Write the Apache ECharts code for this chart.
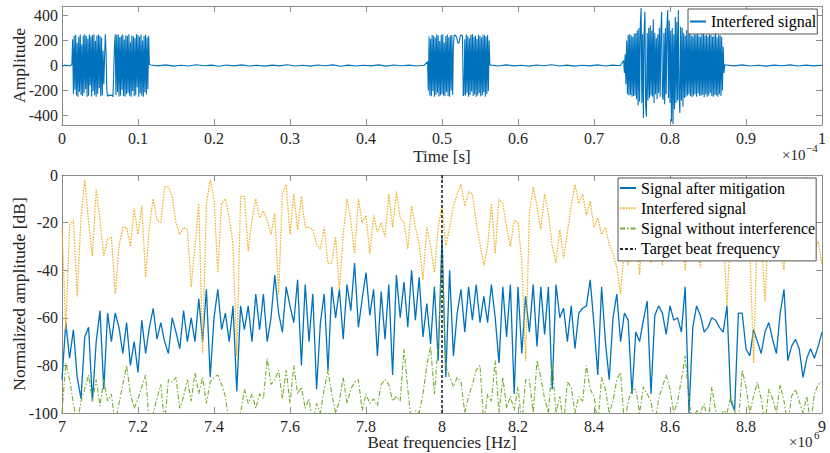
<!DOCTYPE html>
<html>
<head>
<meta charset="utf-8">
<script src="https://cdn.jsdelivr.net/npm/echarts@6/dist/echarts.min.js"></script>
<style>
html,body{margin:0;padding:0;background:#fff;}
#c{width:830px;height:453px;}
</style>
</head>
<body>
<div id="c"></div>
<script>
// ---------- Top panel: time signal (time in units of 1e-4 s) ----------
const quiet1Amp = [2, -3, 5, -4, 3, -5, 4];
const burst1Amp = [10, 210, -228, 238, -195, 246, -240, 182, -250, 230,
  -210, 248, -236, 170, -245, 240, -222, 250, -188, 236,
  -250, 215, -242, 250, -160, 232, -248, 244, -205, 250,
  -238, 198, -250, 240, -226, 248, -180, 236, -246, 224, -240,
  120, -150, 60, 250, 100, -200, -248, -240, -236, -242, -238, -241, -235, -252, -80, 150, 250,
  -236, 244, -212, 250, -248, 226, -240, 238, -196, 250,
  -244, 208, -250, 242, -230, 236, -218, 250, -242, 186,
  -250, 240, -205, 232, -246, 218, -238, 250, -175, 244,
  -250, 230, -222, 248, -240, 200, -250, 236, -214, 246,
  -232, 225, -190, 238, 8];
const quiet2Amp = [4, -3, 5, -5, 2, -4, 6, -2, 3, -6, 4, -3, 5, -4, 2, -5, 3, -3, 6, -4,
  2, -5, 4, -2, 5, -6, 3, -4, 2, -3, 5, -5, 4, -2, 3, -4, 2];
const burst2Amp = [30, -200, 232, -240, 215, -246, 244, -205, 238, -250,
  222, -236, 250, -218, 240, -248, 196, -238, 246, -228,
  250, -240, 185, -246, 236, -212, 248, -244, 226, -250,
  240, -200, 245, -235, 160,
  240, 246, 238, 230, 205, 180, 178, 200, 232, 246, 240, 236,
  -245,
  -230, 210, -240, 248, -222, 236, -250, 218, -236, 246,
  -208, 250, -244, 230, -232, 240, -250, 212, -240, 246,
  -220, 238, -246, 225, -238, 248, -215, 240, -250, 232,
  -228, 244, -205, 200, 5];
const quiet3Amp = [3, -4, 5, -3, 2, -5, 4, -2, 6, -4, 3, -5, 2, -3, 5, -4, 3, -2];
const burst3Amp = [40, -60, 90, -150, 200, -230, 245, -240, 250, -235,
  240, -250, 230, -245, 255, -240, 260, -270, 280, -320,
  300, -290, 330, 460, -300, 250, -420, 280, 430, -330,
  -410, 260, -280, 300, -260, 320, -240, 280, -250, 370,
  -300, 260, -230, 220, -270, 250, -220, 300, -250, 280,
  430, -240, -275, 260, -310, 300, -230, 320, 445, -260,
  360, -300, 280, -450, 300, -470, 250, -350, 390, -300,
  350, -280, 445, -250, -380, 310, -280, 300, -330, 260,
  -260, 240, -250, 285, -240, 250, -230, 255, -245, 240,
  -255, 235, -240, 250, -230, 245, -250, 260, -225, 240,
  -245, 230, -240, 255, -235, 250, -255, 240, -230, 245,
  -250, 235, -240, 250, -220, 245, -245, 230, -250, 240,
  -235, 255, -240, 225, -250, 245, -230, 240, -245, 230,
  -200, 150, -60, 5];
const quiet4Amp = [4, -3, 5, -4, 2, -5, 3, -2, 5, -4, 3, -3, 2];
// segment start time, sample step (x1e-4 s), samples
const timeSegments = [
  [0.000, 0.002, quiet1Amp],
  [0.013, 0.001, burst1Amp],
  [0.1165, 0.01, quiet2Amp],
  [0.481, 0.001, burst2Amp],
  [0.5645, 0.01, quiet3Amp],
  [0.739, 0.001, burst3Amp],
  [0.874, 0.0105, quiet4Amp]
];
const ampTicks = [-400, -200, 0, 200, 400];

// ---------- Bottom panel: spectra (frequency in units of 1e6 Hz) ----------
const freqStart = 7.0;
const freqStep = 0.01;
const mitigated = [-86,-62,-77,-65,-85,-94,-68,-64,-95,-70,
 -57,-90,-58,-70,-58,-64,-75,-62,-80,-70,
 -83,-61,-75,-64,-56,-69,-62,-70,-75,-60,
 -66,-73,-57,-70,-60,-70,-52,-70,-48,-85,
 -60,-48,-65,-58,-70,-55,-91,-55,-65,-55,
 -70,-50,-65,-50,-70,-60,-42,-58,-66,-47,
 -55,-62,-44,-80,-46,-70,-50,-90,-62,-50,
 -82,-47,-60,-48,-69,-46,-57,-37,-64,-52,
 -41,-59,-48,-76,-49,-69,-46,-84,-42,-60,
 -45,-64,-40,-61,-43,-68,-54,-71,-47,-78,
 -26,-85,-40,-76,-58,-48,-66,-47,-61,-46,
 -62,-51,-62,-46,-60,-79,-47,-68,-46,-92,
 -47,-75,-51,-66,-46,-72,-47,-67,-47,-90,
 -46,-60,-56,-70,-55,-73,-58,-56,-55,-44,
 -63,-84,-47,-70,-86,-60,-50,-70,-58,-61,
 -92,-66,-70,-61,-53,-92,-59,-55,-58,-67,
 -55,-61,-60,-66,-47,-100,-64,-55,-59,-66,
 -64,-60,-61,-64,-66,-55,-95,-99,-58,-58,
 -73,-76,-65,-70,-75,-66,-62,-69,-75,-58,
 -48,-78,-72,-69,-73,-85,-77,-73,-77,-72,
 -66];
const interfered = [-22,-65,-21,-19,-51,-18,-2,-20,-34,-6,
 -19,-34,-27,-26,-50,-30,-22,-22,-30,-14,
 -25,-13,-43,-22,-10,-19,-20,-5,-5,-9,
 -20,-25,-22,-23,-47,-30,-12,-75,-12,-2,
 -10,-41,-12,-10,-18,-29,-76,-9,-9,-32,
 -19,-10,-18,-15,-19,-25,-16,-50,-8,-4,
 -25,-8,-23,-9,-22,-22,-23,-29,-31,-22,
 -37,-37,-26,-48,-25,-10,-19,-33,-10,-20,
 -17,-33,-17,-24,-20,-26,-8,-22,-7,-18,
 -20,-31,-13,-22,-29,-44,-22,-30,-41,-22,
 -13,-30,-22,-13,-8,-4,-13,-7,-8,-20,
 -29,-38,-30,-12,-33,-10,-12,-22,-30,-19,
 -20,-36,-78,-16,-5,-13,-23,-8,-16,-30,
 -37,-23,-35,-24,-13,-4,-12,-8,-17,-11,
 -22,-18,-25,-22,-29,-33,-39,-50,-30,-38,
 -20,-15,-42,-18,-12,-37,-20,-10,-38,-22,
 -15,-8,-25,-18,-40,-20,-12,-25,-39,-15,
 -22,-10,-28,-18,-25,-55,-20,-15,-28,-12,
 -22,-30,-79,-20,-25,-53,-18,-10,-22,-30,
 -40,-20,-14,-25,-18,-8,-1,-20,-30,-28,
 -38];
const clean = [-100,-79,-86,-96,-105,-95,-90,-84,-95,-86,
 -97,-86,-95,-92,-105,-96,-88,-80,-92,-98,
 -94,-89,-84,-105,-100,-94,-88,-105,-86,-87,
 -85,-98,-93,-86,-95,-83,-92,-85,-96,-87,
 -85,-84,-88,-93,-105,-100,-105,-100,-90,-96,
 -92,-98,-92,-94,-77,-88,-86,-82,-94,-82,
 -96,-80,-92,-89,-98,-94,-105,-96,-100,-90,
 -82,-92,-100,-95,-85,-96,-90,-87,-86,-99,
 -92,-96,-94,-97,-88,-86,-88,-95,-93,-95,
 -73,-90,-105,-99,-100,-92,-80,-72,-92,-71,
 -35,-80,-85,-89,-85,-87,-100,-93,-88,-82,
 -80,-105,-92,-95,-78,-100,-85,-98,-93,-99,
 -89,-105,-86,-86,-100,-78,-85,-94,-100,-79,
 -100,-93,-105,-87,-89,-100,-93,-95,-80,-90,
 -93,-105,-85,-90,-100,-95,-86,-83,-105,-95,
 -90,-90,-100,-89,-92,-95,-105,-94,-89,-84,
 -90,-100,-95,-86,-76,-95,-105,-99,-100,-96,
 -105,-89,-99,-105,-99,-100,-93,-99,-105,-82,
 -89,-100,-93,-87,-94,-105,-90,-94,-100,-88,
 -95,-105,-93,-90,-95,-100,-93,-105,-92,-88,
 -87];
const targetFreq = 8.0;
const dbRange = [-100, 0];

// ---------- build data ----------
const timeData = [];
timeSegments.forEach(([t0, dt, vals]) => {
  vals.forEach((v, i) => timeData.push([+(t0 + i * dt).toFixed(5), v]));
});
const toSpec = arr => arr.map((v, i) => [+(freqStart + i * freqStep).toFixed(3), v]);

const FONT = 'Liberation Serif, DejaVu Serif, serif';
const AX = '#8c8c8c';
const TXT = '#262626';
const TICKFS = 16;

function xAx(grid, min, max, interval, pos, name, showLabel, gap) {
  return {
    type: 'value', gridIndex: grid, min, max, interval, position: pos,
    name: name || '', nameLocation: 'middle', nameGap: gap || 23, nameMoveOverlap: false,
    nameTextStyle: { fontFamily: FONT, fontSize: 17, color: TXT },
    axisLine: { show: true, onZero: false, lineStyle: { color: AX, width: 1 } },
    axisTick: { show: true, inside: true, length: 6, lineStyle: { color: AX } },
    axisLabel: { show: showLabel, fontFamily: FONT, fontSize: TICKFS, color: TXT, margin: 5 },
    splitLine: { show: false }
  };
}
function yAx(grid, min, max, extra, pos, name, showLabel) {
  return Object.assign({
    type: 'value', gridIndex: grid, min, max, position: pos,
    name: name || '', nameLocation: 'middle', nameGap: 34, nameRotate: 90, nameMoveOverlap: false,
    nameTextStyle: { fontFamily: FONT, fontSize: 17.5, color: TXT },
    axisLine: { show: true, onZero: false, lineStyle: { color: AX, width: 1 } },
    axisTick: { show: true, inside: true, length: 6, lineStyle: { color: AX } },
    axisLabel: { show: showLabel, fontFamily: FONT, fontSize: TICKFS, color: TXT, margin: 4 },
    splitLine: { show: false }
  }, extra);
}

const legendCommon = {
  orient: 'vertical', itemWidth: 16, itemHeight: 14, itemGap: 4.3,
  backgroundColor: '#fff', borderColor: '#262626', borderWidth: 0.8,
  itemStyle: { opacity: 0 },
  textStyle: { fontFamily: FONT, fontSize: 16, color: '#000', lineHeight: 14 },
  selectedMode: false
};

const chart = echarts.init(document.getElementById('c'), null, { renderer: 'svg', width: 830, height: 453 });
const option = {
  animation: false,
  backgroundColor: '#fff',
  grid: [
    { left: 62, top: 6, width: 760, height: 119, containLabel: false, outerBoundsMode: 'none' },
    { left: 62, top: 175, width: 760, height: 238, containLabel: false, outerBoundsMode: 'none' }
  ],
  xAxis: [
    xAx(0, 0, 1, 0.1, 'bottom', 'Time [s]', true, 23),
    xAx(0, 0, 1, 0.1, 'top', '', false),
    xAx(1, 7, 9, 0.2, 'bottom', 'Beat frequencies [Hz]', true, 21),
    xAx(1, 7, 9, 0.2, 'top', '', false)
  ],
  yAxis: [
    yAx(0, -477, 477, {
      axisTick: { show: true, inside: true, length: 6, lineStyle: { color: AX }, customValues: ampTicks },
      axisLabel: { show: true, fontFamily: FONT, fontSize: TICKFS, color: TXT, margin: 4, customValues: ampTicks }
    }, 'left', 'Amplitude', true),
    yAx(0, -477, 477, {
      axisTick: { show: true, inside: true, length: 6, lineStyle: { color: AX }, customValues: ampTicks },
      axisLabel: { show: false }
    }, 'right', '', false),
    yAx(1, dbRange[0], dbRange[1], { interval: 20 }, 'left', 'Normalized amplitude [dB]', true),
    yAx(1, dbRange[0], dbRange[1], { interval: 20 }, 'right', '', false)
  ],
  legend: [
    Object.assign({}, legendCommon, {
      data: ['Interfered signal'],
      left: 688, top: 9, padding: [4.5, 1, 4.5, 1]
    }),
    Object.assign({}, legendCommon, {
      data: ['Signal after mitigation', 'Interfered signal ', 'Signal without interference', 'Target beat frequency'],
      left: 618, top: 178, padding: [2, 1, 4, 1]
    })
  ],
  series: [
    {
      name: 'Interfered signal', type: 'line', xAxisIndex: 0, yAxisIndex: 0,
      data: timeData, symbol: 'none', showSymbol: false,
      lineStyle: { color: '#0072BD', width: 1.1 }, itemStyle: { color: '#0072BD' }
    },
    {
      name: 'Signal after mitigation', type: 'line', xAxisIndex: 2, yAxisIndex: 2,
      data: toSpec(mitigated), symbol: 'none', showSymbol: false,
      lineStyle: { color: '#0072BD', width: 1.3 }, itemStyle: { color: '#0072BD' }
    },
    {
      name: 'Interfered signal ', type: 'line', xAxisIndex: 2, yAxisIndex: 2,
      data: toSpec(interfered), symbol: 'none', showSymbol: false,
      lineStyle: { color: '#EDB120', width: 1.2, type: [1.6, 1.2] }, itemStyle: { color: '#EDB120' }
    },
    {
      name: 'Signal without interference', type: 'line', xAxisIndex: 2, yAxisIndex: 2,
      data: toSpec(clean), symbol: 'none', showSymbol: false,
      lineStyle: { color: '#77AC30', width: 1.1, type: [5, 2, 1.5, 2] }, itemStyle: { color: '#77AC30' }
    },
    {
      name: 'Target beat frequency', type: 'line', xAxisIndex: 2, yAxisIndex: 2,
      data: [[targetFreq, dbRange[1]], [targetFreq, dbRange[0]]], symbol: 'none', showSymbol: false,
      lineStyle: { color: '#262626', width: 1.6, type: [3, 2] }, itemStyle: { color: '#262626' }
    }
  ],
  graphic: [
    { type: 'text', left: 782, top: 147, style: { text: '×10', font: '15px ' + FONT, fill: TXT } },
    { type: 'text', left: 806, top: 142, style: { text: '−4', font: '11px ' + FONT, fill: TXT } },
    { type: 'text', left: 789, top: 434, style: { text: '×10', font: '15px ' + FONT, fill: TXT } },
    { type: 'text', left: 814, top: 429, style: { text: '6', font: '11px ' + FONT, fill: TXT } }
  ]
};
chart.setOption(option);
</script>
</body>
</html>
